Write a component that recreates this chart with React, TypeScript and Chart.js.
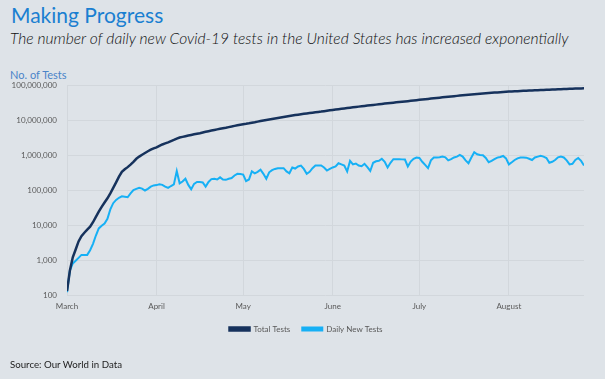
import React, { useEffect, useRef } from "react";
import { Chart, registerables } from "chart.js";

Chart.register(...registerables);

const monthLabels = ["March", "April", "May", "June", "July", "August"];
const monthStartDays = [0, 31, 61, 92, 122, 153];
const yTickValues = [100, 1000, 10000, 100000, 1000000, 10000000, 100000000];

// Daily values from 1 March (day 0) to 27 August (day 179)
const totalTests = [
  130, 500, 1200, 2000, 3400, 4800, 6000, 7400, 8900, 12000,
  17000, 24000, 33000, 44000, 58000, 80000, 115000, 165000, 240000, 330000,
  390000, 450000, 530000, 640000, 780000, 900000, 1020000, 1140000, 1280000, 1420000,
  1550000, 1650000, 1820000, 2000000, 2150000, 2300000, 2500000, 2700000, 2950000, 3150000,
  3300000, 3450000, 3600000, 3750000, 3900000, 4050000, 4200000, 4400000, 4600000, 4800000,
  5000000, 5200000, 5400000, 5600000, 5800000, 6000000, 6250000, 6500000, 6800000, 7100000,
  7350000, 7600000, 7800000, 8050000, 8350000, 8650000, 9000000, 9350000, 9700000, 10000000,
  10.35e6, 10.7e6, 11.05e6, 11.4e6, 11.8e6, 12.2e6, 12.6e6, 13.0e6, 13.4e6, 13.8e6,
  14.2e6, 14.6e6, 15.0e6, 15.4e6, 15.8e6, 16.2e6, 16.6e6, 17.0e6, 17.4e6, 17.9e6,
  18.4e6, 18.9e6, 19.4e6, 19.9e6, 20.4e6, 20.9e6, 21.4e6, 21.9e6, 22.5e6, 23.0e6,
  23.5e6, 24.1e6, 24.6e6, 25.2e6, 25.8e6, 26.3e6, 26.9e6, 27.5e6, 28.1e6, 28.7e6,
  29.4e6, 30.0e6, 30.6e6, 31.3e6, 31.9e6, 32.6e6, 33.3e6, 34.0e6, 34.6e6, 35.3e6,
  36.1e6, 36.9e6, 37.7e6, 38.5e6, 39.3e6, 40.1e6, 40.9e6, 41.8e6, 42.6e6, 43.5e6,
  44.4e6, 45.3e6, 46.2e6, 47.1e6, 48.0e6, 48.9e6, 49.8e6, 50.7e6, 51.6e6, 52.5e6,
  53.4e6, 54.3e6, 55.2e6, 56.1e6, 57.0e6, 57.9e6, 58.8e6, 59.7e6, 60.6e6, 61.5e6,
  62.4e6, 63.3e6, 64.2e6, 65.0e6, 65.6e6, 66.2e6, 66.8e6, 67.4e6, 68.0e6, 68.6e6,
  69.2e6, 69.8e6, 70.4e6, 71.0e6, 71.6e6, 72.2e6, 72.8e6, 73.4e6, 74.0e6, 74.6e6,
  75.2e6, 75.8e6, 76.4e6, 77.0e6, 77.6e6, 78.2e6, 78.8e6, 79.4e6, 80.0e6, 80.6e6,
];

const dailyNewTests = [
  120, 500, 800, 950, 1150, 1400, 1400, 1400, 1900, 2900,
  5000, 8000, 9500, 11000, 15000, 28000, 42000, 52000, 60000, 66000,
  64000, 62000, 80000, 100000, 108000, 116000, 110000, 97000, 108000, 125000,
  135000, 138000, 145000, 140000, 125000, 115000, 130000, 145000, 350000, 155000,
  175000, 210000, 140000, 105000, 150000, 170000, 168000, 165000, 125000, 170000,
  205000, 210000, 200000, 230000, 200000, 195000, 210000, 220000, 260000, 290000,
  285000, 275000, 180000, 200000, 340000, 300000, 330000, 380000, 290000, 210000,
  320000, 370000, 400000, 420000, 420000, 420000, 340000, 300000, 440000, 410000,
  470000, 500000, 400000, 290000, 330000, 420000, 500000, 500000, 500000, 440000,
  360000, 400000, 440000, 470000, 580000, 540000, 500000, 340000, 680000, 540000,
  570000, 500000, 480000, 560000, 450000, 350000, 600000, 660000, 680000, 780000,
  640000, 440000, 600000, 760000, 760000, 760000, 750000, 740000, 470000, 650000,
  780000, 850000, 820000, 640000, 520000, 420000, 700000, 850000, 850000, 860000,
  900000, 860000, 700000, 760000, 850000, 900000, 1000000, 900000, 700000, 580000,
  850000, 1200000, 1050000, 1000000, 980000, 820000, 620000, 680000, 760000, 840000,
  880000, 940000, 800000, 540000, 620000, 720000, 800000, 850000, 850000, 840000,
  780000, 720000, 850000, 900000, 950000, 900000, 820000, 600000, 640000, 720000,
  860000, 900000, 850000, 700000, 540000, 560000, 720000, 820000, 680000, 500000,
];

const BG = "#dee3e8";
const GRID = "#d2d7dc";
const NAVY = "#16325c";
const SKY = "#16b0f5";
const TICK = "#595959";
const FONT = "Lato, 'Open Sans', sans-serif";

const legendShift = {
  id: "legendShift",
  afterLayout(chart: any) {
    const l = chart.legend;
    if (l) {
      l.left += 14;
      l.right += 14;
    }
  },
};

export default function App() {
  const ref = useRef<HTMLCanvasElement>(null);

  useEffect(() => {
    if (!ref.current) return;
    const chart = new Chart(ref.current, {
      type: "line",
      data: {
        datasets: [
          {
            label: "Total Tests",
            data: totalTests.map((v, i) => ({ x: i, y: v })),
            borderColor: NAVY,
            backgroundColor: NAVY,
            borderWidth: 2.5,
            pointRadius: 0,
            tension: 0,
          },
          {
            label: "Daily New Tests",
            data: dailyNewTests.map((v, i) => ({ x: i, y: v })),
            borderColor: SKY,
            backgroundColor: SKY,
            borderWidth: 2,
            pointRadius: 0,
            tension: 0,
          },
        ],
      },
      plugins: [legendShift],
      options: {
        animation: false,
        responsive: false,
        maintainAspectRatio: false,
        layout: { padding: { left: 0, right: 21, top: 85, bottom: 36 } },
        scales: {
          x: {
            type: "linear",
            min: 0,
            max: totalTests.length - 1,
            afterBuildTicks: (scale: any) => {
              scale.ticks = monthStartDays.map((v) => ({ value: v }));
            },
            afterFit: (scale: any) => {
              scale.height = 18;
            },
            ticks: {
              autoSkip: false,
              maxRotation: 0,
              padding: 7,
              color: TICK,
              font: { family: FONT, size: 8 },
              callback: (v: any) => {
                const idx = monthStartDays.indexOf(Number(v));
                return idx >= 0 ? monthLabels[idx] : "";
              },
            },
            grid: { color: GRID, drawTicks: false, lineWidth: 1 },
            border: { display: false },
          },
          y: {
            type: "logarithmic",
            min: 100,
            max: 100000000,
            afterBuildTicks: (scale: any) => {
              scale.ticks = yTickValues.map((v) => ({ value: v }));
            },
            afterFit: (scale: any) => {
              scale.width = 67;
            },
            ticks: {
              padding: 10,
              color: TICK,
              font: { family: FONT, size: 8 },
              callback: (v: any) => Number(v).toLocaleString("en-US"),
            },
            grid: { color: GRID, drawTicks: false, lineWidth: 1 },
            border: { display: false },
          },
        },
        plugins: {
          legend: {
            position: "bottom",
            labels: {
              boxWidth: 20,
              boxHeight: 3,
              padding: 12,
              color: TICK,
              font: { family: FONT, size: 8 },
            },
          },
          tooltip: { enabled: false },
        },
      },
    });
    return () => chart.destroy();
  }, []);

  return (
    <div
      style={{
        position: "fixed",
        left: 0,
        top: 0,
        width: 605,
        height: 379,
        background: BG,
        overflow: "hidden",
        fontFamily: FONT,
      }}
    >
      <div
        style={{
          position: "absolute",
          left: 11,
          top: 1,
          fontSize: 21,
          lineHeight: "28px",
          color: "#1a7fd1",
          whiteSpace: "nowrap",
        }}
      >
        Making Progress
      </div>
      <div
        style={{
          position: "absolute",
          left: 10,
          top: 29,
          fontSize: 15.6,
          lineHeight: "18px",
          fontStyle: "italic",
          fontWeight: 300,
          color: "#111",
          whiteSpace: "nowrap",
        }}
      >
        The number of daily new Covid-19 tests in the United States has increased exponentially
      </div>
      <div
        style={{
          position: "absolute",
          left: 10,
          top: 68,
          fontSize: 11,
          lineHeight: "13px",
          color: "#4a84c8",
          whiteSpace: "nowrap",
        }}
      >
        No. of Tests
      </div>
      <canvas
        ref={ref}
        width={605}
        height={379}
        style={{ position: "absolute", left: 0, top: 0, width: 605, height: 379 }}
      />
      <div
        style={{
          position: "absolute",
          left: 10,
          top: 358,
          fontSize: 9.7,
          lineHeight: "12px",
          color: "#222",
          whiteSpace: "nowrap",
        }}
      >
        Source: Our World in Data
      </div>
    </div>
  );
}
